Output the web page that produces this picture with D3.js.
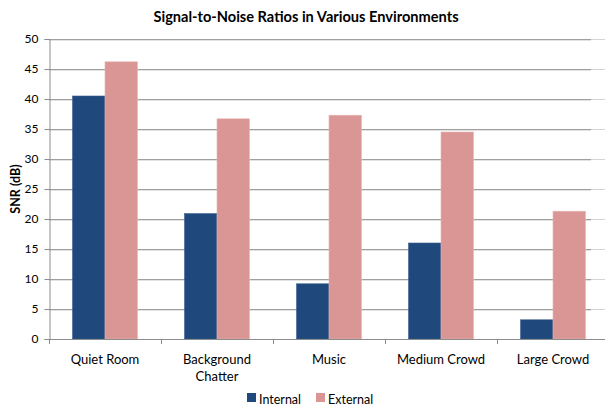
<!DOCTYPE html>
<html>
<head>
<meta charset="utf-8">
<script src="https://cdn.jsdelivr.net/npm/d3@7"></script>
<style>
  html, body { margin: 0; padding: 0; background: #fff; }
  svg text { font-family: Lato, "Open Sans", sans-serif; fill: #000; }
</style>
</head>
<body>
<svg id="chart" width="605" height="408"></svg>
<script>
// Signal-to-noise ratios by listening environment
const categories = ["Quiet Room", "Background Chatter", "Music", "Medium Crowd", "Large Crowd"];
const seriesNames = ["Internal", "External"];
const internalValues = [40.5, 20.9, 9.2, 16.0, 3.2];
const externalValues = [46.2, 36.7, 37.3, 34.5, 21.3];
const yTicks = [0, 5, 10, 15, 20, 25, 30, 35, 40, 45, 50];
const colors = ["#1f497d", "#d99694"];

const svg = d3.select("#chart");
const plotLeft = 49, plotRight = 609, plotTop = 39, plotBottom = 339;

const x = d3.scaleBand().domain(categories).range([plotLeft, plotRight]).paddingInner(0.42).paddingOuter(0.21);
const xs = d3.scaleBand().domain(seriesNames).range([0, x.bandwidth()]);
const y = d3.scaleLinear().domain([0, 50]).range([plotBottom, plotTop]);
const color = d3.scaleOrdinal().domain(seriesNames).range(colors);

// Horizontal gridlines
const grid = svg.append("g");
yTicks.filter(t => t > 0).forEach(t => {
  const gy = Math.round(y(t));
  grid.append("line").attr("x1", plotLeft).attr("x2", 591)
    .attr("y1", gy + 0.5).attr("y2", gy + 0.5).attr("stroke", "#a0a0a0");
  grid.append("line").attr("x1", plotLeft).attr("x2", 591)
    .attr("y1", gy + 1.5).attr("y2", gy + 1.5).attr("stroke", "#e2e2e2");
  grid.append("line").attr("x1", 591).attr("x2", 605)
    .attr("y1", gy + 0.5).attr("y2", gy + 0.5).attr("stroke", "#d4d4d4");
});

// Bars
const rows = categories.map((c, i) => ({ category: c, values: [internalValues[i], externalValues[i]] }));
const groups = svg.append("g").selectAll("g").data(rows).join("g")
  .attr("transform", d => `translate(${x(d.category)},0)`);
groups.selectAll("rect").data(d => d.values.map((v, j) => ({ name: seriesNames[j], value: v })))
  .join("rect")
  .attr("x", d => xs(d.name))
  .attr("width", xs.bandwidth())
  .attr("y", d => y(d.value))
  .attr("height", d => y(0) - y(d.value))
  .attr("fill", d => color(d.name))
  .attr("stroke", d => d.name === "Internal" ? "#3b5f8d" : "#e6b5b3")
  .attr("stroke-width", 0.6);

// Y axis
const yAxis = svg.append("g").attr("transform", `translate(${plotLeft + 0.5},0)`)
  .call(d3.axisLeft(y).tickValues(yTicks).tickSize(5).tickPadding(6).tickFormat(d3.format("d")));
yAxis.select(".domain").attr("stroke", "#8c8c8c");
yAxis.selectAll(".tick line").attr("stroke", "#8c8c8c");
yAxis.selectAll(".tick text").attr("font-size", 12).attr("fill", "#000")
  .attr("font-family", "Lato, 'Open Sans', sans-serif");

// X axis baseline and category separators
const xAxisG = svg.append("g");
xAxisG.append("line").attr("x1", plotLeft).attr("x2", 605)
  .attr("y1", plotBottom + 0.5).attr("y2", plotBottom + 0.5).attr("stroke", "#8c8c8c");
d3.range(categories.length + 1).forEach(i => {
  const px = Math.round(plotLeft + i * x.step()) + 0.5;
  xAxisG.append("line").attr("x1", px).attr("x2", px)
    .attr("y1", plotBottom).attr("y2", plotBottom + 5).attr("stroke", "#8c8c8c");
});

// Category labels (wrapped when long)
const labels = svg.append("g").selectAll("text").data(categories).join("text")
  .attr("x", d => x(d) + x.bandwidth() / 2)
  .attr("y", 363.5)
  .attr("text-anchor", "middle")
  .attr("font-size", 13);
labels.each(function(d) {
  const lines = d === "Background Chatter" ? ["Background", "Chatter"] : [d];
  const t = d3.select(this);
  lines.forEach((ln, k) => t.append("tspan").attr("x", x(d) + x.bandwidth() / 2).attr("dy", k ? 17.5 : 0).text(ln));
});

// Y axis title
svg.append("text")
  .attr("transform", "translate(20,189) rotate(-90)")
  .attr("text-anchor", "middle")
  .attr("font-size", 12.5).attr("font-weight", "bold")
  .text("SNR (dB)");

// Chart title
svg.append("text")
  .attr("x", 306).attr("y", 22)
  .attr("text-anchor", "middle")
  .attr("font-size", 14.6).attr("font-weight", "bold")
  .text("Signal-to-Noise Ratios in Various Environments");

// Legend
const legend = svg.append("g").attr("transform", "translate(247,393)");
const legendX = [0, 69];
seriesNames.forEach((n, i) => {
  const g = legend.append("g").attr("transform", `translate(${legendX[i]},0)`);
  g.append("rect").attr("width", 9).attr("height", 9).attr("y", 0).attr("fill", color(n));
  g.append("text").attr("x", 12).attr("y", 10.5).attr("font-size", 12.5).text(n);
});
</script>
</body>
</html>
